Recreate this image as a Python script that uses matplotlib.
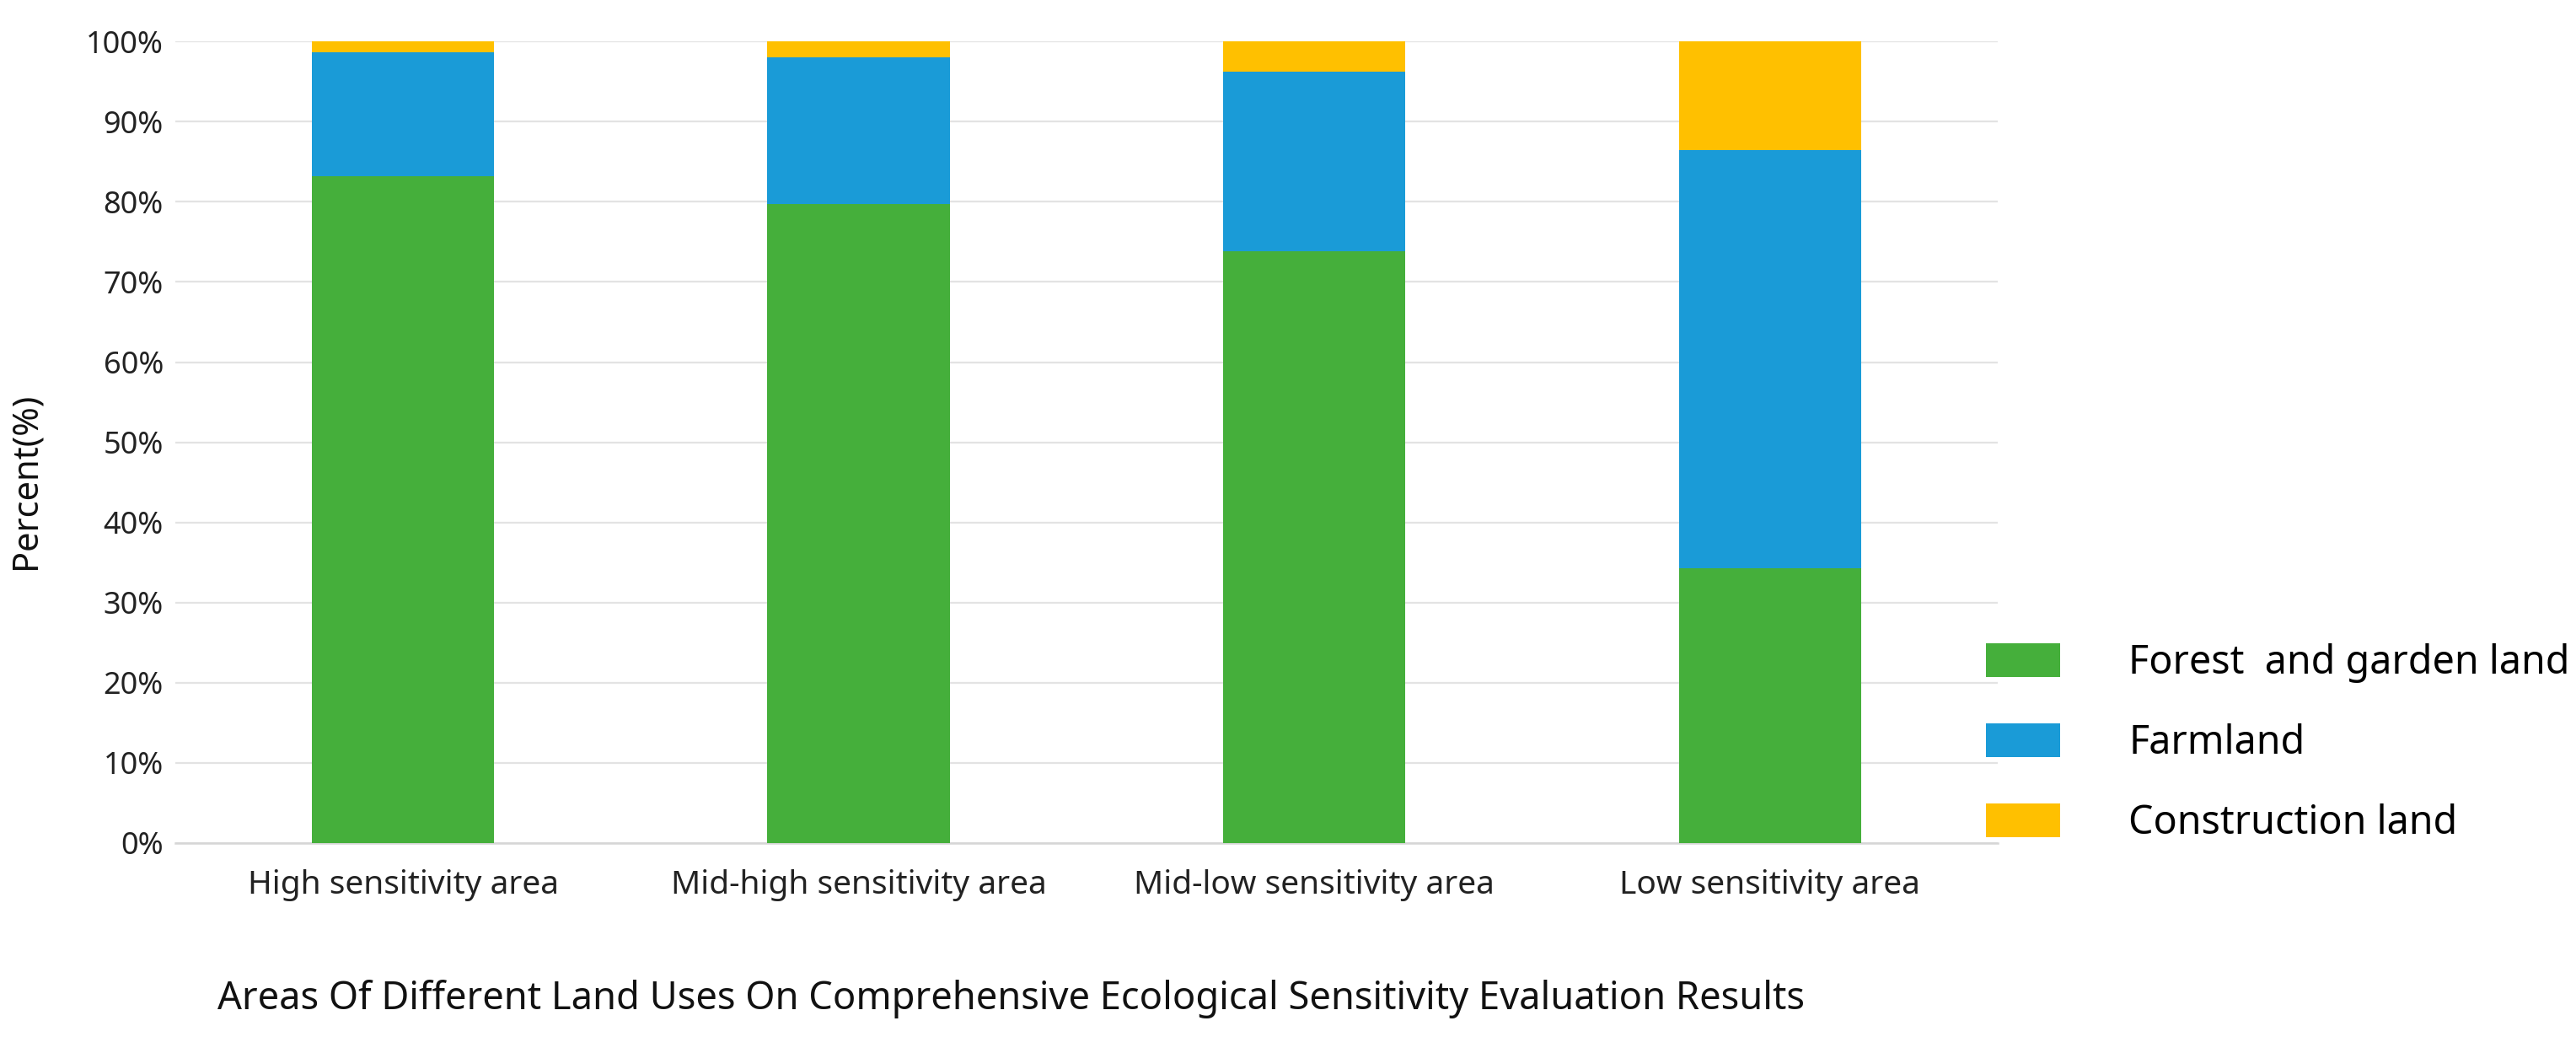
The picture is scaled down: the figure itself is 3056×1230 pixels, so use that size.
import matplotlib
matplotlib.use("Agg")
import matplotlib.pyplot as plt
import numpy as np

plt.rcParams['font.family'] = ['Noto Sans', 'DejaVu Sans']

categories = ["High sensitivity area", "Mid-high sensitivity area",
              "Mid-low sensitivity area", "Low sensitivity area"]
forest = [83.2, 79.7, 73.8, 34.3]
farmland = [15.5, 18.3, 22.4, 52.2]
construction = [1.3, 2.0, 3.8, 13.5]
series_names = ["Forest  and garden land", "Farmland", "Construction land"]
colors = ["#45AF3B", "#1A9BD7", "#FFC000"]
yticks = [0, 10, 20, 30, 40, 50, 60, 70, 80, 90, 100]

fig = plt.figure(figsize=(15.28, 6.15), dpi=200)
ax = fig.add_axes([0.068, 0.187, 0.7075, 0.773])

x = np.arange(len(categories))
w = 0.40
b1 = ax.bar(x, forest, w, color=colors[0], label=series_names[0], zorder=3)
b2 = ax.bar(x, farmland, w, bottom=forest, color=colors[1], label=series_names[1], zorder=3)
bottom3 = np.array(forest) + np.array(farmland)
b3 = ax.bar(x, construction, w, bottom=bottom3, color=colors[2], label=series_names[2], zorder=3)

ax.set_xlim(-0.5, len(categories) - 0.5)
ax.set_ylim(0, 100)
ax.set_yticks(yticks)
ax.set_yticklabels([f"{v}%" for v in yticks], fontsize=13, color="#222222")
ax.set_xticks(x)
ax.set_xticklabels(categories, fontsize=14, color="#222222")
ax.tick_params(axis='y', length=0, pad=5)
ax.tick_params(axis='x', length=0, pad=11)
ax.grid(axis='y', color="#E3E3E3", linewidth=0.8, zorder=0)
for s in ['top', 'right', 'left']:
    ax.spines[s].set_visible(False)
ax.spines['bottom'].set_color("#D6D6D6")
ax.spines['bottom'].set_linewidth(0.9)

fig.text(31 / 3056, 1 - 570 / 1230, "Percent(%)", rotation=90, fontsize=15,
         ha='center', va='center', color="#111111")
fig.text(1199 / 3056, 1 - 1185 / 1230,
         "Areas Of Different Land Uses On Comprehensive Ecological Sensitivity Evaluation Results",
         fontsize=16.3, ha='center', va='center', color="#111111")

leg = fig.legend(handles=[b1, b2, b3], loc='upper left',
                 bbox_to_anchor=(2356 / 3056, 1 - 763 / 1230),
                 frameon=False, fontsize=16.8, handlelength=1.88, handleheight=0.92,
                 handletextpad=1.75, labelspacing=1.03, borderpad=0, borderaxespad=0)

fig.savefig("out.png", dpi=200, facecolor="white")
